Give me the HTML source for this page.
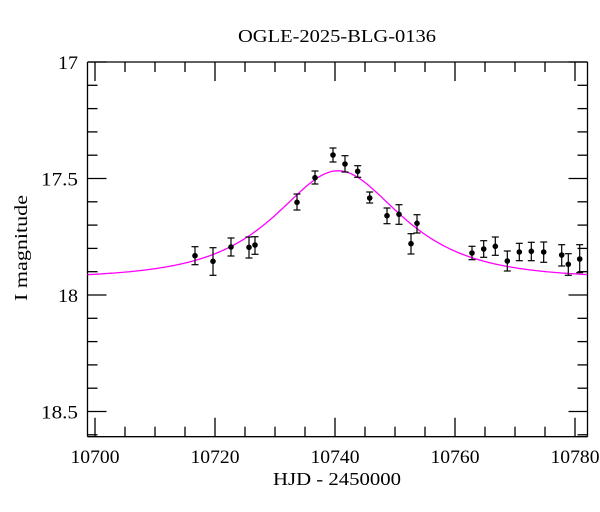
<!DOCTYPE html>
<html><head><style>
html,body{margin:0;padding:0;background:#fff;}
svg{display:block;}
text{font-family:"Liberation Serif",serif;fill:#000;}
</style></head><body>
<svg id="s" width="600" height="512" viewBox="0 0 600 512" xmlns="http://www.w3.org/2000/svg">
<text x="337" y="42" font-size="18" text-anchor="middle" textLength="198" lengthAdjust="spacingAndGlyphs">OGLE-2025-BLG-0136</text>
<text x="337" y="485" font-size="18" text-anchor="middle" textLength="128" lengthAdjust="spacingAndGlyphs">HJD - 2450000</text>
<text transform="translate(27,248) rotate(-90)" font-size="18" text-anchor="middle" textLength="106" lengthAdjust="spacingAndGlyphs">I magnitude</text>
<g id="ax" stroke="#000" stroke-width="1.3" fill="none"></g>
<g id="tl" font-size="19"></g>
<path id="curve" fill="none" stroke="#f0f" stroke-width="1.3"/>
<g id="pts"></g>
</svg>
<script>
var NS="http://www.w3.org/2000/svg";
function X(t){return 95+(t-10700)*6;}
function Y(m){return 62+(m-17)*233;}
var L=87.5,R=587.5,T=62,B=436.7;
var ax=document.getElementById('ax'),tl=document.getElementById('tl');
function line(x1,y1,x2,y2,g){var e=document.createElementNS(NS,'line');e.setAttribute('x1',x1);e.setAttribute('y1',y1);e.setAttribute('x2',x2);e.setAttribute('y2',y2);(g||ax).appendChild(e);}
function txt(x,y,s,anc,w){var e=document.createElementNS(NS,'text');e.setAttribute('x',x);e.setAttribute('y',y);e.setAttribute('text-anchor',anc);e.setAttribute('textLength',w);e.setAttribute('lengthAdjust','spacingAndGlyphs');e.textContent=s;tl.appendChild(e);}
line(L,T,R,T);line(L,B,R,B);line(L,T,L,B);line(R,T,R,B);
for(var t=10700;t<=10780;t+=5){var x=X(t),len=(t%20==0)?19:10;line(x,B,x,B-len);line(x,T,x,T+len);if(t%20==0)txt(x,463,t,'middle',49);}
var labs={0:"17",5:"17.5",10:"18",15:"18.5"};
for(var i=0;i<=16;i++){var m=17+i*0.1;var y=Y(m);if(y>B)break;var len=(i%5==0)?19:10;line(L,y,L+len,y);line(R,y,R-len,y);if(i%5==0){var s=labs[i];txt(78,y+7,s,'end',s.length>2?37:20);}}
var t0=10740.5,tE=14.2,u0=0.8,base=17.93,d="";
for(var t=10698.75;t<=10782.1;t+=0.25){var u=Math.sqrt(u0*u0+Math.pow((t-t0)/tE,2));var A=(u*u+2)/(u*Math.sqrt(u*u+4));var m=base-2.5*Math.log10(A);d+=(d?"L":"M")+X(t).toFixed(2)+","+Y(m).toFixed(2);}
document.getElementById('curve').setAttribute('d',d);
var P=[[195,255.7,246.7,264.7],[213,261.3,247.7,275.3],[231,247,238,256],[249,247.3,237,258],[255,245,236.7,254.3],[297,202.3,194,210],[315,177.7,171,184],[333,155,148,162],[345,164,155.7,172],[357.7,171.3,165.7,177.3],[369.7,198,192,203],[387,215.7,208,223.7],[399,214.3,204.7,224.3],[411,243.7,233.7,254],[417,223.3,214.7,233],[472,253,246.3,259.7],[483.7,249,240.7,257.3],[495.3,246.3,237,255.3],[507.3,261,251,271],[519.3,252,243.3,260.7],[531.3,251.3,242.3,260.7],[543.7,252,242,262.3],[561.7,255,244.7,266],[568.3,264.3,253.7,275.3],[579.7,259,244.7,272.7]];
var g=document.getElementById('pts');
var gs=document.createElementNS(NS,'g');gs.setAttribute('stroke','#000');gs.setAttribute('stroke-width','1.2');g.appendChild(gs);
P.forEach(function(p){line(p[0],p[2],p[0],p[3],gs);line(p[0]-3.5,p[2],p[0]+3.5,p[2],gs);line(p[0]-3.5,p[3],p[0]+3.5,p[3],gs);
var c=document.createElementNS(NS,'circle');c.setAttribute('cx',p[0]);c.setAttribute('cy',p[1]);c.setAttribute('r',2.8);c.setAttribute('fill','#000');g.appendChild(c);});
</script>
</body></html>
